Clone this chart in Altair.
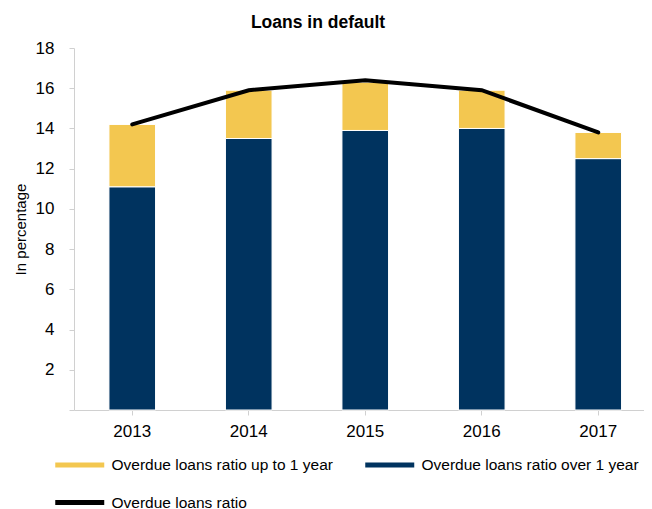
import altair as alt
import pandas as pd

years = ["2013", "2014", "2015", "2016", "2017"]
over_1y = [11.1, 13.5, 13.9, 14.0, 12.5]
up_to_1y_top = [14.2, 15.9, 16.3, 15.9, 13.8]
ratio = [14.2, 15.9, 16.4, 15.9, 13.8]

s_up = "Overdue loans ratio up to 1 year"
s_over = "Overdue loans ratio over 1 year"
s_ratio = "Overdue loans ratio"

rows = []
for y, o, t in zip(years, over_1y, up_to_1y_top):
    rows.append({"year": y, "series": s_over, "v0": 0.0, "v1": o})
    rows.append({"year": y, "series": s_up, "v0": o, "v1": t})
bars_df = pd.DataFrame(rows)
line_df = pd.DataFrame({"year": years, "ratio": ratio})

FONT = "Liberation Sans"
xscale = alt.Scale(domain=years, range=[0, 582.5], paddingInner=0.6, paddingOuter=0.3)
yscale = alt.Scale(domain=[0, 18], nice=False)

bars = alt.Chart(bars_df).mark_bar(stroke="white", strokeWidth=1).encode(
    x=alt.X("year:N", scale=xscale, sort=years,
            axis=alt.Axis(title=None, labelAngle=0, labelFontSize=17, labelPadding=8,
                          tickSize=5, domainColor="#d0d0d0", tickColor="#d0d0d0",
                          labelColor="#000000", grid=False)),
    y=alt.Y("v0:Q", scale=yscale,
            axis=alt.Axis(title="In percentage", values=list(range(0, 19, 2)),
                          labelExpr="datum.value == 0 ? '' : datum.label",
                          labelFontSize=17, labelPadding=15, tickSize=5,
                          titleFontSize=15, titleFontWeight="normal", titlePadding=7,
                          titleColor="#000000", labelColor="#000000",
                          domainColor="#d0d0d0", tickColor="#d0d0d0", grid=False)),
    y2="v1:Q",
    color=alt.Color("series:N",
                    scale=alt.Scale(domain=[s_up, s_over, s_ratio],
                                    range=["#F3C750", "#00335F", "#000000"]),
                    legend=alt.Legend(title=None, orient="none", direction="horizontal",
                                      legendX=-6.75, legendY=404.5,
                                      columns=2, columnPadding=32, rowPadding=16.5,
                                      symbolType="M-2,-0.2H2V0.2H-2Z", symbolSize=600,
                                      symbolStrokeWidth=0, labelOffset=19.25,
                                      labelFontSize=15.5, labelColor="#000000",
                                      padding=0, labelLimit=400)),
)

line = alt.Chart(line_df).mark_line(color="black", strokeWidth=4, strokeCap="round").encode(
    x=alt.X("year:N", scale=xscale, sort=years),
    y=alt.Y("ratio:Q", scale=yscale),
)

chart = alt.layer(bars, line).properties(
    width=570,
    height=362,
    autosize=alt.AutoSizeParams(type="none"),
    padding={"left": 66, "top": 40, "right": 0, "bottom": 99},
    title=alt.TitleParams("Loans in default", fontSize=17.5, fontWeight="bold",
                          anchor="middle", dx=-41, offset=8, color="#000000"),
).configure(font=FONT).configure_view(stroke=None)

chart.save("out.html", embed_options={"renderer": "svg", "actions": False})
